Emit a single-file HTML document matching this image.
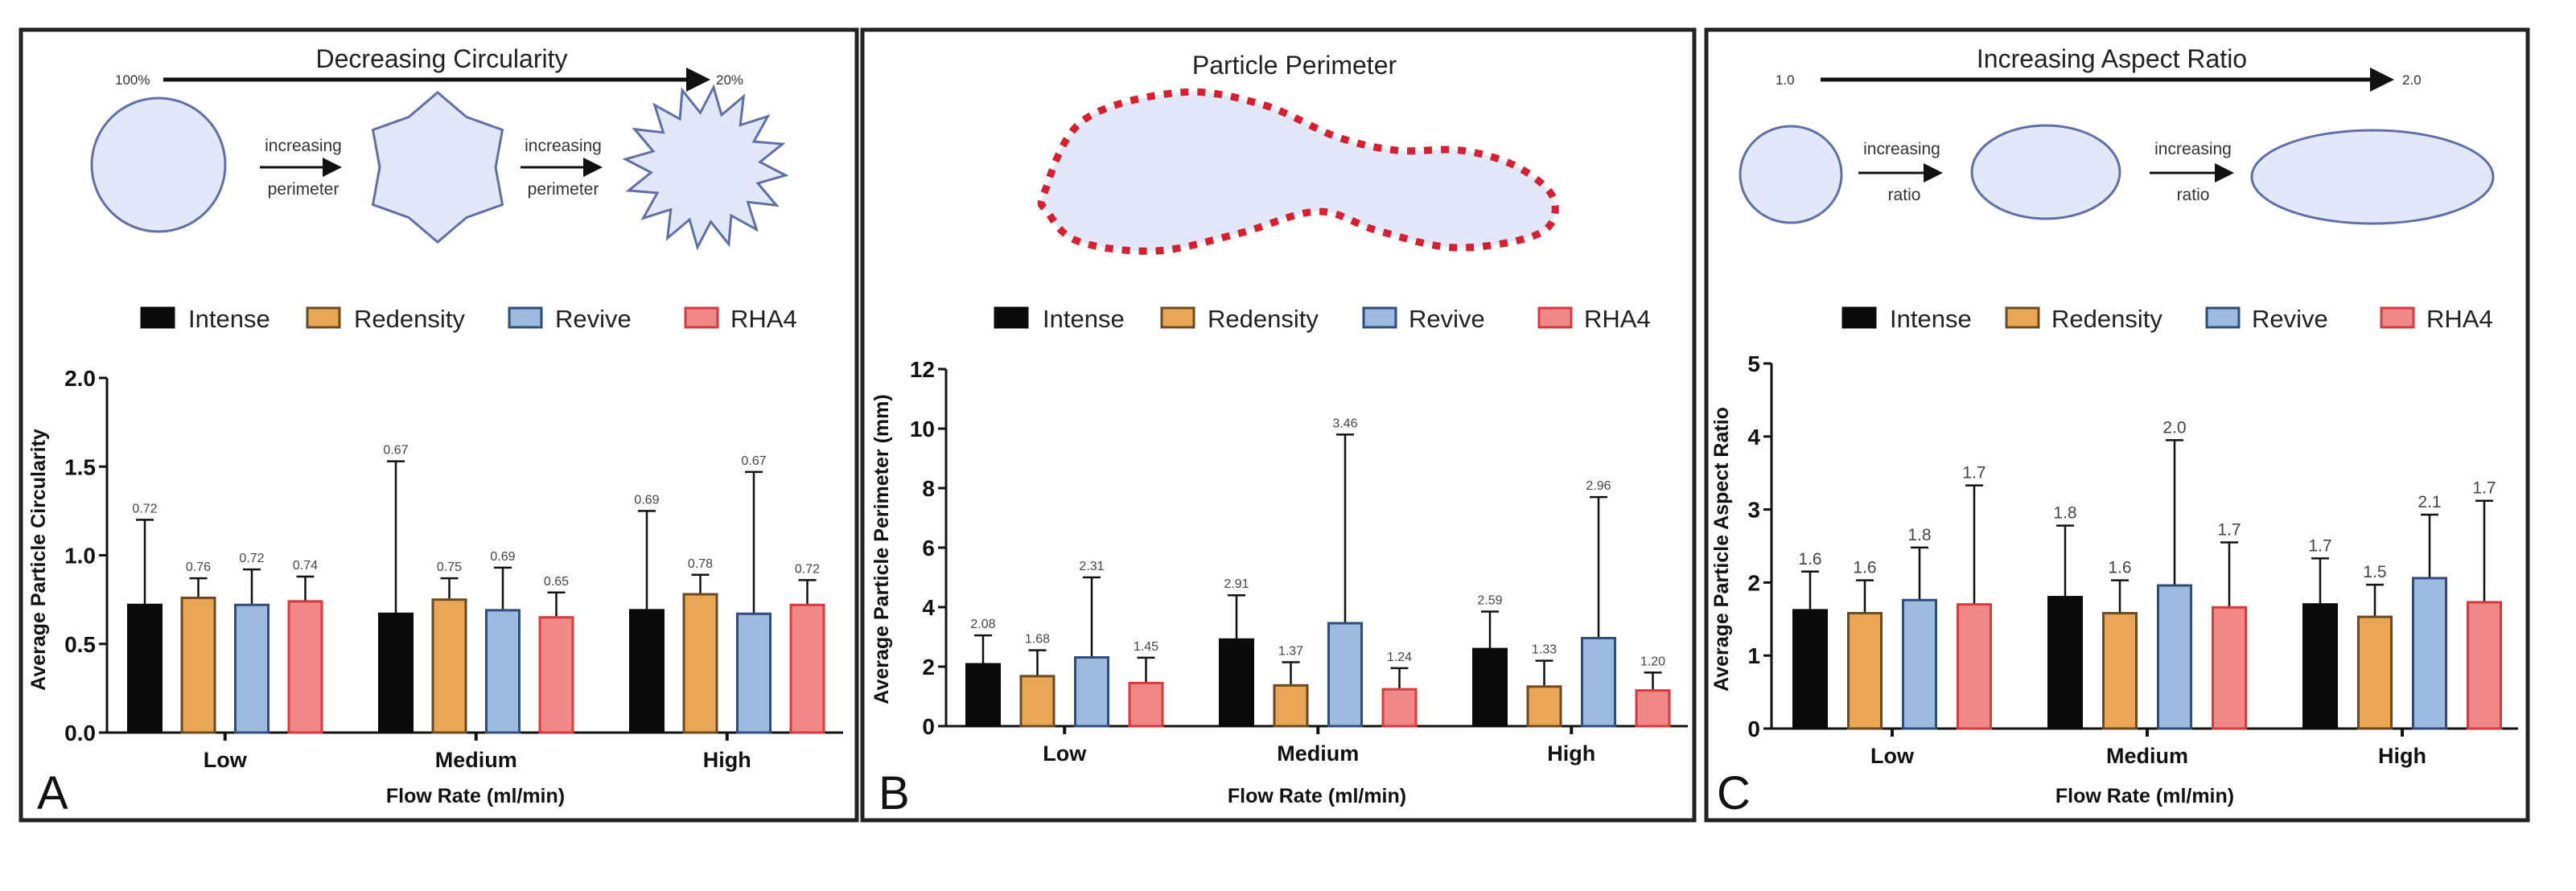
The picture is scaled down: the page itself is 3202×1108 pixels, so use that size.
<!DOCTYPE html>
<html><head><meta charset="utf-8">
<style>
html,body{margin:0;padding:0;background:#fff;}
svg{display:block;font-family:"Liberation Sans",Arial,sans-serif;}
</style></head>
<body>
<svg id="fig" width="3202" height="1108" viewBox="0 0 3202 1108" xmlns="http://www.w3.org/2000/svg">
<defs>
<marker id="ah" markerWidth="6" markerHeight="6" refX="5" refY="3" orient="auto" markerUnits="strokeWidth"><path d="M0,0 L6,3 L0,6 z" fill="#111"/></marker>
<marker id="ahs" markerWidth="8" markerHeight="8" refX="7" refY="4" orient="auto" markerUnits="strokeWidth"><path d="M0,0 L8,4 L0,8 z" fill="#111"/></marker>
</defs>
<g><rect x="26" y="37" width="1039" height="983" fill="none" stroke="#222" stroke-width="5"/></g>
<g><rect x="1072" y="37" width="1034" height="983" fill="none" stroke="#222" stroke-width="5"/></g>
<g><rect x="2121" y="37" width="1021" height="983" fill="none" stroke="#222" stroke-width="5"/></g>

<!-- Panel A illustration -->
<g>
<text x="549" y="84" font-size="32" text-anchor="middle" fill="#222">Decreasing Circularity</text>
<text x="143" y="105" font-size="17" fill="#333">100%</text>
<line x1="203" y1="99" x2="878" y2="99" stroke="#111" stroke-width="5" marker-end="url(#ah)"/>
<text x="890" y="105" font-size="17" fill="#333">20%</text>
<circle cx="197" cy="205" r="83" fill="#e3e8f8" stroke="#5f70a8" stroke-width="3"/>
<text x="377" y="188" font-size="21" text-anchor="middle" fill="#333">increasing</text>
<line x1="323" y1="208" x2="422" y2="208" stroke="#111" stroke-width="3" marker-end="url(#ahs)"/>
<text x="377" y="242" font-size="21" text-anchor="middle" fill="#333">perimeter</text>
<text x="700" y="188" font-size="21" text-anchor="middle" fill="#333">increasing</text>
<line x1="647" y1="208" x2="746" y2="208" stroke="#111" stroke-width="3" marker-end="url(#ahs)"/>
<text x="700" y="242" font-size="21" text-anchor="middle" fill="#333">perimeter</text>
<polygon id="star6" fill="#e3e8f8" stroke="#5f70a8" stroke-width="3"/>
<polygon id="spiky" fill="#e3e8f8" stroke="#5f70a8" stroke-width="3"/>
</g>

<!-- Panel B illustration -->
<g>
<text x="1609" y="92" font-size="32" text-anchor="middle" fill="#222">Particle Perimeter</text>
<path id="blob" fill="#e3e8f8" stroke="#d42030" stroke-width="9" stroke-dasharray="10 11"/>
</g>

<!-- Panel C illustration -->
<g>
<text x="2625" y="84" font-size="32" text-anchor="middle" fill="#222">Increasing Aspect Ratio</text>
<text x="2207" y="105" font-size="17" fill="#333">1.0</text>
<line x1="2263" y1="99" x2="2971" y2="99" stroke="#111" stroke-width="5" marker-end="url(#ah)"/>
<text x="2986" y="105" font-size="17" fill="#333">2.0</text>
<ellipse cx="2226" cy="217" rx="63" ry="60" fill="#e3e8f8" stroke="#5f70a8" stroke-width="3"/>
<ellipse cx="2543" cy="214" rx="92" ry="58" fill="#e3e8f8" stroke="#5f70a8" stroke-width="3"/>
<ellipse cx="2949" cy="220" rx="150" ry="58" fill="#e3e8f8" stroke="#5f70a8" stroke-width="3"/>
<text x="2364" y="192" font-size="21" text-anchor="middle" fill="#333">increasing</text>
<line x1="2310" y1="215" x2="2412" y2="215" stroke="#111" stroke-width="3" marker-end="url(#ahs)"/>
<text x="2367" y="249" font-size="21" text-anchor="middle" fill="#333">ratio</text>
<text x="2726" y="192" font-size="21" text-anchor="middle" fill="#333">increasing</text>
<line x1="2672" y1="215" x2="2774" y2="215" stroke="#111" stroke-width="3" marker-end="url(#ahs)"/>
<text x="2726" y="249" font-size="21" text-anchor="middle" fill="#333">ratio</text>
</g>

<g id="charts"></g>
</svg>
<script>
// ---- data ----
const categories = ["Low","Medium","High"];
const series = ["Intense","Redensity","Revive","RHA4"];
// Panel A: circularity
const circMeans = [[0.72,0.76,0.72,0.74],[0.67,0.75,0.69,0.65],[0.69,0.78,0.67,0.72]];
const circErrTop = [[1.20,0.87,0.92,0.88],[1.53,0.87,0.93,0.79],[1.25,0.89,1.47,0.86]];
const circTicks = ["0.0","0.5","1.0","1.5","2.0"];
// Panel B: perimeter
const periMeans = [[2.08,1.68,2.31,1.45],[2.91,1.37,3.46,1.24],[2.59,1.33,2.96,1.20]];
const periErrTop = [[3.05,2.55,5.0,2.3],[4.4,2.15,9.8,1.95],[3.85,2.2,7.7,1.8]];
const periTicks = ["0","2","4","6","8","10","12"];
// Panel C: aspect ratio
const aspMeans = [[1.62,1.58,1.76,1.70],[1.80,1.58,1.96,1.66],[1.70,1.53,2.06,1.73]];
const aspErrTop = [[2.15,2.03,2.48,3.33],[2.78,2.03,3.95,2.55],[2.33,1.97,2.93,3.12]];
const aspTicks = ["0","1","2","3","4","5"];

const NS = "http://www.w3.org/2000/svg";
const fills = ["#0a0a0a","#e9a656","#9dbadf","#ef8886"];
const strokes = ["#0a0a0a","#6b4a20","#2f4c7c","#d63a3c"];
function mk(tag, attrs, parent){const e=document.createElementNS(NS,tag);for(const k in attrs)e.setAttribute(k,attrs[k]);parent.appendChild(e);return e;}

const root = document.getElementById('charts');

function panel(cfg){
  const g = mk('g',{},root);
  
  
  const ymax = parseFloat(cfg.ticks[cfg.ticks.length-1]);
  const y = v => cfg.y0 - (v/ymax)*(cfg.y0-cfg.yTop);
  const gx = i => cfg.g0 + i*cfg.gStep;
  // legend
  const lg = mk('g',{},g);
  
  
  series.forEach((s,k)=>{
    const sw = mk('rect',{x:cfg.leg[k][0],y:383,width:40,height:24,fill:fills[k],stroke:strokes[k],'stroke-width':3},lg);
    
    
    const t = mk('text',{x:cfg.leg[k][1],y:407,'font-size':31,fill:'#222'},lg);
    t.textContent = s;
    
    
  });
  // axes
  const ax = mk('path',{d:`M${cfg.ax} ${cfg.yTop} V${cfg.y0} H${cfg.axEnd}`,fill:'none',stroke:'#111','stroke-width':3},g);
  
  
  cfg.ticks.forEach(tk=>{
    const yy = y(parseFloat(tk));
    mk('line',{x1:cfg.ax-10,y1:yy,x2:cfg.ax,y2:yy,stroke:'#111','stroke-width':3},g);
    const t = mk('text',{x:cfg.ax-14,y:yy+10,'font-size':28,'font-weight':'bold','text-anchor':'end',fill:'#111'},g);
    t.textContent = tk;
    
    
  });
  const yt = mk('text',{x:0,y:0,'font-size':25,'font-weight':'bold','text-anchor':'middle',fill:'#111',transform:`translate(${cfg.ytx},${cfg.yty}) rotate(-90)`},g);
  yt.textContent = cfg.ytitle;
  
  
  const xt = mk('text',{x:cfg.xtx,y:998,'font-size':25,'font-weight':'bold','text-anchor':'middle',fill:'#111'},g);
  xt.textContent = 'Flow Rate (ml/min)';
  
  
  const pl = mk('text',{x:cfg.lx,y:1006,'font-size':58,fill:'#111'},g);
  pl.textContent = cfg.letter;
  
  
  categories.forEach((c,i)=>{
    const cx = gx(i) + 1.5*cfg.bStep + cfg.bw/2;
    mk('line',{x1:cx,y1:cfg.y0,x2:cx,y2:cfg.y0+10,stroke:'#111','stroke-width':4},g);
    const t = mk('text',{x:cx,y:cfg.y0+43,'font-size':27,'font-weight':'bold','text-anchor':'middle',fill:'#111'},g);
    t.textContent = c;
    
    
    series.forEach((s,k)=>{
      const x = gx(i)+k*cfg.bStep;
      const m = cfg.means[i][k], e = cfg.err[i][k];
      const bx = x+cfg.bw/2;
      const eb = mk('path',{d:`M${bx} ${y(m)} V${y(e)} M${bx-11} ${y(e)} H${bx+11}`,stroke:'#111','stroke-width':2.5,fill:'none'},g);
      
      
      const r = mk('rect',{x:x+1.5,y:y(m),width:cfg.bw-3,height:cfg.y0-y(m),fill:fills[k],stroke:strokes[k],'stroke-width':3},g);
      
      
      const vl = mk('text',{x:bx,y:y(e)-9,'font-size':cfg.vfs,'text-anchor':'middle',fill:'#444'},g);
      vl.textContent = m.toFixed(cfg.dec);
      
      
    });
  });
}

panel({name:'circularity-chart',means:circMeans,err:circErrTop,ticks:circTicks,dec:2,vfs:16,
  ax:133,axEnd:1048,yTop:470,y0:911,g0:158,gStep:312,bStep:66.5,bw:44,
  leg:[[176,234],[382,440],[633,690],[852,908]],ytitle:'Average Particle Circularity',ytx:56,yty:696,xtx:591,lx:46,letter:'A'});
panel({name:'perimeter-chart',means:periMeans,err:periErrTop,ticks:periTicks,dec:2,vfs:16,
  ax:1176,axEnd:2098,yTop:459,y0:903,g0:1200,gStep:315,bStep:67.5,bw:44,
  leg:[[1237,1296],[1444,1501],[1695,1751],[1913,1969]],ytitle:'Average Particle Perimeter (mm)',ytx:1104,yty:683,xtx:1637,lx:1092,letter:'B'});
panel({name:'aspect-ratio-chart',means:aspMeans,err:aspErrTop,ticks:aspTicks,dec:1,vfs:21,
  ax:2202,axEnd:3130,yTop:452,y0:906,g0:2228,gStep:317,bStep:68,bw:44,
  leg:[[2291,2349],[2494,2550],[2743,2799],[2960,3016]],ytitle:'Average Particle Aspect Ratio',ytx:2148,yty:683,xtx:2666,lx:2134,letter:'C'});

// star shapes (illustration geometry)
function starPts(cx,cy,n,ro,ri,rot){const p=[];for(let i=0;i<2*n;i++){const a=rot+i*Math.PI/n;const r=i%2?ri:ro;p.push((cx+r*Math.sin(a)).toFixed(1)+','+(cy-r*Math.cos(a)).toFixed(1));}return p.join(' ');}
document.getElementById('star6').setAttribute('points',starPts(544,208,6,93,72,0));
document.getElementById('spiky').setAttribute('points',starPts(877,208,16,100,68,0.1));
// blob outline
const bp=[[1298,240],[1346,150],[1466,115],[1569,130],[1661,170],[1736,187],[1816,187],[1885,207],[1931,247],[1914,290],[1811,308],[1713,287],[1638,263],[1541,290],[1437,312],[1340,300],[1302,263]];
let d='M'+bp[0].join(' ');
for(let i=0;i<bp.length;i++){const p0=bp[(i-1+bp.length)%bp.length],p1=bp[i],p2=bp[(i+1)%bp.length],p3=bp[(i+2)%bp.length];
 d+=` C${p1[0]+(p2[0]-p0[0])/6} ${p1[1]+(p2[1]-p0[1])/6} ${p2[0]-(p3[0]-p1[0])/6} ${p2[1]-(p3[1]-p1[1])/6} ${p2[0]} ${p2[1]}`;}
document.getElementById('blob').setAttribute('d',d+'Z');
</script>
</body></html>
